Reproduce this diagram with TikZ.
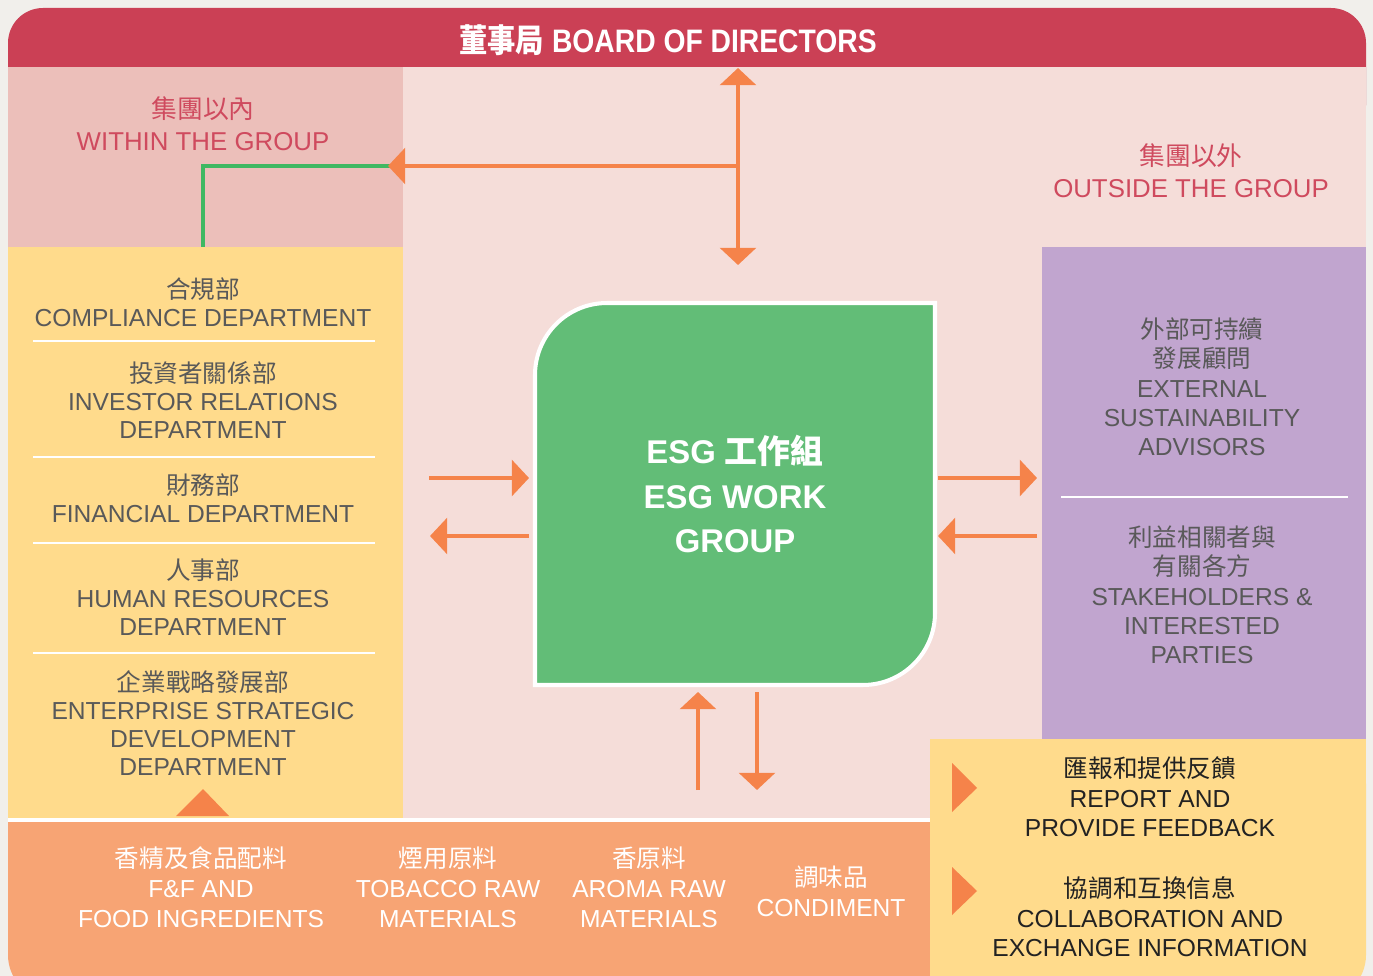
\documentclass[tikz,border=0pt]{standalone}
\usepackage{fontspec}
\setmainfont{Liberation Sans}
\newfontfamily\cjk{Noto Sans CJK TC}
\usetikzlibrary{arrows.meta}
\definecolor{bgc}{HTML}{F1EFEB}
\definecolor{bannerred}{HTML}{CB4055}
\definecolor{pinkin}{HTML}{ECBFBA}
\definecolor{pinklt}{HTML}{F5DDD9}
\definecolor{yel}{HTML}{FFDB8C}
\definecolor{purp}{HTML}{C1A5CF}
\definecolor{esggreen}{HTML}{62BD77}
\definecolor{oarr}{HTML}{F5834A}
\definecolor{ostrip}{HTML}{F7A474}
\definecolor{gline}{HTML}{3FB862}
\definecolor{redtxt}{HTML}{CF4A5E}
\definecolor{graytxt}{HTML}{595959}
\definecolor{darktxt}{HTML}{222222}
\begin{document}
\begin{tikzpicture}[x=0.02cm,y=-0.02cm,
  txt/.style={align=center,inner sep=0pt,font=\fontsize{14pt}{16pt}\selectfont},
  grouplbl/.style={align=center,inner sep=0pt,text=redtxt,font=\fontsize{14.7pt}{18pt}\selectfont},
  dept/.style={txt,text=graytxt},
  ext/.style={align=center,inner sep=0pt,text=graytxt,font=\fontsize{14pt}{16.7pt}\selectfont},
  legend/.style={align=center,inner sep=0pt,text=darktxt,font=\fontsize{14pt}{16.7pt}\selectfont},
  strip/.style={align=center,inner sep=0pt,text=white,font=\fontsize{14pt}{17pt}\selectfont},
  sep/.style={draw=white,line width=1.1pt},
  oarrow/.style={draw=oarr,line width=2.27pt,-{Triangle[width=20.4pt,length=9.8pt]}},
  odarrow/.style={draw=oarr,line width=2.27pt,{Triangle[width=20.4pt,length=9.8pt]}-{Triangle[width=20.4pt,length=9.8pt]}},
  tri/.style={fill=oarr}
]
\useasboundingbox (0,0) rectangle (1373,976);
\clip (0,0) rectangle (1373,976);
% background
\fill[bgc] (0,0) rectangle (1373,976);
% banner
\fill[bannerred,rounded corners=0.7cm] (8,8) rectangle (1366,140);
% bottom orange strip
\fill[ostrip,rounded corners=0.9cm] (8,760) rectangle (930,1000);
\fill[ostrip] (500,760) rectangle (930,1000);
% main light pink
\fill[pinklt] (8,67) rectangle (1366,818);
\fill[white] (8,818) rectangle (930,822);
% within group area
\fill[pinkin] (8,67) rectangle (403,247);
% departments yellow
\fill[yel] (8,247) rectangle (403,818);
% external purple
\fill[purp] (1042,247) rectangle (1366,739);
% legend yellow
\fill[yel,rounded corners=0.9cm] (930,739) rectangle (1366,1000);
\fill[yel] (930,739) rectangle (1366,820);
\fill[yel] (930,739) rectangle (1150,1000);

% banner text
\node[text=white,inner sep=0pt,font=\fontsize{18.5pt}{20pt}\selectfont\bfseries] (board) at (668,40)
  {\scalebox{0.87}[1]{{\cjk 董事局} BOARD OF DIRECTORS}};

% group labels
\node[grouplbl] (within) at (203,124) {{\cjk 集團以內}\\WITHIN THE GROUP};
\node[grouplbl] (outside) at (1191,171) {{\cjk 集團以外}\\OUTSIDE THE GROUP};

% departments
\node[dept] (d1) at (203,302) {{\cjk 合規部}\\COMPLIANCE DEPARTMENT};
\node[dept] (d2) at (203,400) {{\cjk 投資者關係部}\\INVESTOR RELATIONS\\DEPARTMENT};
\node[dept] (d3) at (203,498) {{\cjk 財務部}\\FINANCIAL DEPARTMENT};
\node[dept] (d4) at (203,597) {{\cjk 人事部}\\HUMAN RESOURCES\\DEPARTMENT};
\node[dept] (d5) at (203,723) {{\cjk 企業戰略發展部}\\ENTERPRISE STRATEGIC\\DEVELOPMENT\\DEPARTMENT};
\draw[sep] (33,341) -- (375,341);
\draw[sep] (33,457) -- (375,457);
\draw[sep] (33,543) -- (375,543);
\draw[sep] (33,653) -- (375,653);
\fill[tri] (176,816) -- (203,789) -- (229,816) -- cycle;

% external
\node[ext] (ext1) at (1202,387) {{\cjk 外部可持續}\\{\cjk 發展顧問}\\EXTERNAL\\SUSTAINABILITY\\ADVISORS};
\node[ext] (ext2) at (1202,595) {{\cjk 利益相關者與}\\{\cjk 有關各方}\\STAKEHOLDERS \&\\INTERESTED\\PARTIES};
\draw[sep] (1061,497) -- (1348,497);

% ESG box
\draw[white,line width=2.3pt,fill=esggreen] (535,685) -- (535,375)
  arc[start angle=180,end angle=90,radius=1.44cm] -- (935,303) -- (935,613)
  arc[start angle=0,end angle=-90,radius=1.44cm] -- cycle;
\node[align=center,inner sep=0pt,text=white,font=\fontsize{18.7pt}{25.2pt}\selectfont\bfseries] (esg) at (735,494)
  {ESG {\cjk 工作組}\\ESG WORK\\GROUP};

% strip texts
\node[strip] (s1) at (201,887) {{\cjk 香精及食品配料}\\F\&F AND\\FOOD INGREDIENTS};
\node[strip] (s2) at (448,887) {{\cjk 煙用原料}\\TOBACCO RAW\\MATERIALS};
\node[strip] (s3) at (649,887) {{\cjk 香原料}\\AROMA RAW\\MATERIALS};
\node[strip] (s4) at (831,891) {{\cjk 調味品}\\CONDIMENT};

% legend
\fill[tri] (952,763) -- (977,788) -- (952,812) -- cycle;
\fill[tri] (952,867) -- (977,891) -- (952,915) -- cycle;
\node[legend] (l1) at (1150,797) {{\cjk 匯報和提供反饋}\\REPORT AND\\PROVIDE FEEDBACK};
\node[legend] (l2) at (1150,917) {{\cjk 協調和互換信息}\\COLLABORATION AND\\EXCHANGE INFORMATION};

% arrow end coordinates
\coordinate (wstart) at (203,247);
\coordinate (wend) at (390,166);
\coordinate (tjoin) at (738,166);
\coordinate (tleft) at (388,166);
\coordinate (ttop) at (738,68);
\coordinate (tbot) at (738,265);
\coordinate (la) at (429,478);
\coordinate (lb) at (529,478);
\coordinate (lc) at (529,536);
\coordinate (ld) at (430,536);
\coordinate (ra) at (938,478);
\coordinate (rb) at (1037,478);
\coordinate (rc) at (1037,536);
\coordinate (rd) at (938,536);
\coordinate (ua) at (698,790);
\coordinate (ub) at (698,692);
\coordinate (da) at (757,692);
\coordinate (db) at (757,790);

% connectors
\draw[gline,line width=2.4pt] (wstart) |- (wend);
\draw[odarrow] (tbot) -- (ttop);
\draw[oarrow] (tjoin) -- (tleft);
\draw[oarrow] (la) -- (lb);
\draw[oarrow] (lc) -- (ld);
\draw[oarrow] (ra) -- (rb);
\draw[oarrow] (rc) -- (rd);
\draw[oarrow] (ua) -- (ub);
\draw[oarrow] (da) -- (db);
\end{tikzpicture}
\end{document}
